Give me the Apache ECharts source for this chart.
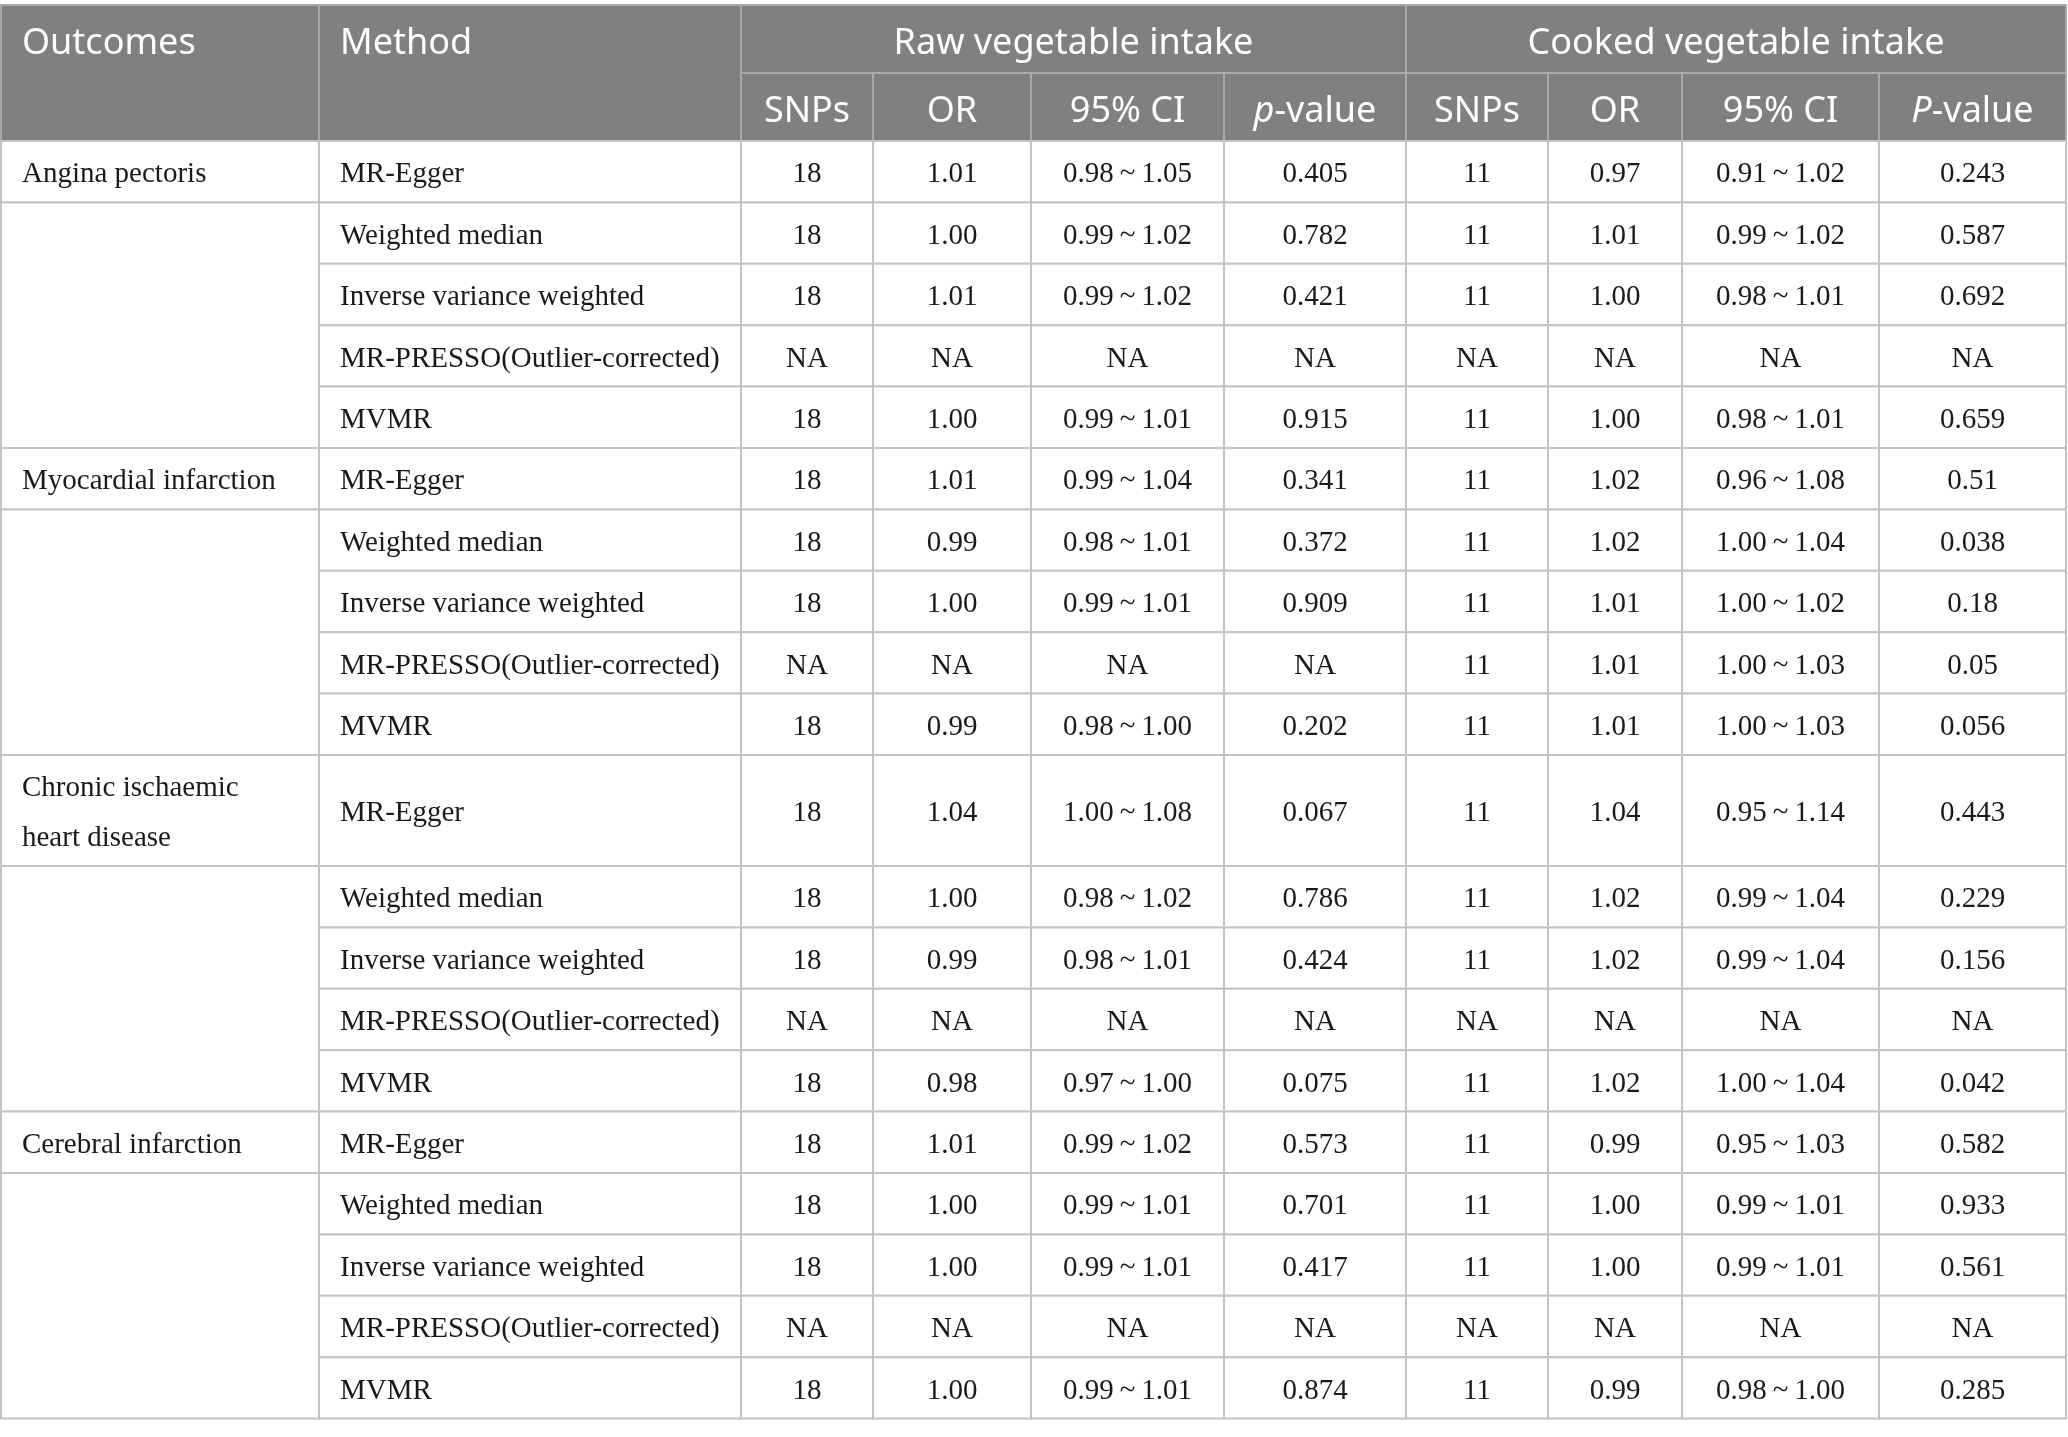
<!DOCTYPE html>
<html>
<head>
<meta charset="utf-8">
<title>MR results table</title>
<script src="https://cdn.jsdelivr.net/npm/echarts@6/dist/echarts.min.js"></script>
<style>
  html, body { margin: 0; padding: 0; background: #fff; }
  #main { width: 2068px; height: 1437px; }
</style>
</head>
<body>
<div id="main"></div>
<script>
// table content
const outcomes = ["Angina pectoris", "Myocardial infarction", "Chronic ischaemic\nheart disease", "Cerebral infarction"];
const methods = ["MR-Egger", "Weighted median", "Inverse variance weighted", "MR-PRESSO(Outlier-corrected)", "MVMR"];
const groupHeads = ["Raw vegetable intake", "Cooked vegetable intake"];
const subHeads = ["SNPs", "OR", "95% CI", "{i|p}-value", "SNPs", "OR", "95% CI", "{i|P}-value"];

const rawSnps = ["18", "18", "18", "NA", "18", "18", "18", "18", "NA", "18", "18", "18", "18", "NA", "18", "18", "18", "18", "NA", "18"];
const rawOr = ["1.01", "1.00", "1.01", "NA", "1.00", "1.01", "0.99", "1.00", "NA", "0.99", "1.04", "1.00", "0.99", "NA", "0.98", "1.01", "1.00", "1.00", "NA", "1.00"];
const rawCi = ["0.98 ~ 1.05", "0.99 ~ 1.02", "0.99 ~ 1.02", "NA", "0.99 ~ 1.01",
  "0.99 ~ 1.04", "0.98 ~ 1.01", "0.99 ~ 1.01", "NA", "0.98 ~ 1.00",
  "1.00 ~ 1.08", "0.98 ~ 1.02", "0.98 ~ 1.01", "NA", "0.97 ~ 1.00",
  "0.99 ~ 1.02", "0.99 ~ 1.01", "0.99 ~ 1.01", "NA", "0.99 ~ 1.01"];
const rawP = ["0.405", "0.782", "0.421", "NA", "0.915", "0.341", "0.372", "0.909", "NA", "0.202", "0.067", "0.786", "0.424", "NA", "0.075", "0.573", "0.701", "0.417", "NA", "0.874"];

const cookedSnps = ["11", "11", "11", "NA", "11", "11", "11", "11", "11", "11", "11", "11", "11", "NA", "11", "11", "11", "11", "NA", "11"];
const cookedOr = ["0.97", "1.01", "1.00", "NA", "1.00", "1.02", "1.02", "1.01", "1.01", "1.01", "1.04", "1.02", "1.02", "NA", "1.02", "0.99", "1.00", "1.00", "NA", "0.99"];
const cookedCi = ["0.91 ~ 1.02", "0.99 ~ 1.02", "0.98 ~ 1.01", "NA", "0.98 ~ 1.01",
  "0.96 ~ 1.08", "1.00 ~ 1.04", "1.00 ~ 1.02", "1.00 ~ 1.03", "1.00 ~ 1.03",
  "0.95 ~ 1.14", "0.99 ~ 1.04", "0.99 ~ 1.04", "NA", "1.00 ~ 1.04",
  "0.95 ~ 1.03", "0.99 ~ 1.01", "0.99 ~ 1.01", "NA", "0.98 ~ 1.00"];
const cookedP = ["0.243", "0.587", "0.692", "NA", "0.659", "0.51", "0.038", "0.18", "0.05", "0.056", "0.443", "0.229", "0.156", "NA", "0.042", "0.582", "0.933", "0.561", "NA", "0.285"];

const valueCols = [rawSnps, rawOr, rawCi, rawP, cookedSnps, cookedOr, cookedCi, cookedP];

// layout (in page pixels, mapped through the hidden value axes)
const W = 2068, H = 1437;
const colEdges = [1, 319, 741, 873, 1031, 1224, 1406, 1548, 1682, 1879, 2066];
const headTop = 5, headMid = 73, headBottom = 141;
const rowH = 61.4, tallRowH = 111;
const padLeft = 21;
const headShift = 5, bodyShift = 3;

const HEAD_BG = "#808080", HEAD_LINE = "#a9a9a9", BODY_LINE = "#c4c4c4";
const HEAD_FONT = "'Noto Sans', 'Open Sans', sans-serif";
const BODY_FONT = "'Liberation Serif', 'DejaVu Serif', serif";

const cells = [];
function addCell(x0, x1, y0, y1, text, opts) {
  cells.push(Object.assign({ x0, x1, y0, y1, text, align: "center", head: false, textY: null }, opts || {}));
}

// header
addCell(colEdges[0], colEdges[1], headTop, headBottom, "Outcomes", { head: true, align: "left", textY: (headTop + headMid) / 2 });
addCell(colEdges[1], colEdges[2], headTop, headBottom, "Method", { head: true, align: "left", textY: (headTop + headMid) / 2 });
addCell(colEdges[2], colEdges[6], headTop, headMid, groupHeads[0], { head: true });
addCell(colEdges[6], colEdges[10], headTop, headMid, groupHeads[1], { head: true });
subHeads.forEach((t, i) => addCell(colEdges[i + 2], colEdges[i + 3], headMid, headBottom, t, { head: true }));

// body
const rowTops = [];
let y = headBottom;
for (let r = 0; r < outcomes.length * methods.length; r++) {
  rowTops.push(y);
  y += (r === 10) ? tallRowH : rowH;
}
rowTops.push(y);

outcomes.forEach((name, g) => {
  const r0 = g * methods.length;
  addCell(colEdges[0], colEdges[1], rowTops[r0], rowTops[r0 + 1], name, { align: "left" });
  addCell(colEdges[0], colEdges[1], rowTops[r0 + 1], rowTops[r0 + methods.length], "", {});
  methods.forEach((m, k) => {
    const r = r0 + k;
    addCell(colEdges[1], colEdges[2], rowTops[r], rowTops[r + 1], m, { align: "left" });
    valueCols.forEach((col, c) => {
      addCell(colEdges[c + 2], colEdges[c + 3], rowTops[r], rowTops[r + 1], col[r].replace(" ~ ", "\u2009~\u2009"), {});
    });
  });
});

function renderCell(params, api) {
  const cell = cells[api.value(4)];
  const p0 = api.coord([api.value(0), api.value(1)]);
  const p1 = api.coord([api.value(2), api.value(3)]);
  const shift = cell.head ? headShift : bodyShift;
  const ty = (cell.textY != null ? api.coord([0, cell.textY])[1] : (p0[1] + p1[1]) / 2) + shift;
  const tx = cell.align === "left" ? p0[0] + padLeft : (p0[0] + p1[0]) / 2;
  return {
    type: "group",
    children: [
      {
        type: "rect",
        shape: { x: p0[0], y: p0[1], width: p1[0] - p0[0], height: p1[1] - p0[1] },
        style: {
          fill: cell.head ? HEAD_BG : "#fff",
          stroke: cell.head ? HEAD_LINE : BODY_LINE,
          lineWidth: 2
        }
      },
      {
        type: "text",
        x: tx,
        y: ty,
        style: {
          text: cell.text,
          align: cell.align,
          verticalAlign: "middle",
          fill: cell.head ? "#fff" : "#1a1a1a",
          font: cell.head ? "36px " + HEAD_FONT : "29px " + BODY_FONT,
          lineHeight: cell.head ? 44 : 50,
          rich: {
            i: { fontStyle: "italic", fontSize: 36, fontFamily: HEAD_FONT, fill: "#fff" }
          }
        }
      }
    ]
  };
}

const chart = echarts.init(document.getElementById("main"), null, { renderer: "canvas" });
chart.setOption({
  animation: false,
  backgroundColor: "#fff",
  grid: { left: 0, right: 0, top: 0, bottom: 0 },
  xAxis: { type: "value", min: 0, max: W, show: false },
  yAxis: { type: "value", min: 0, max: H, inverse: true, show: false },
  series: [{
    type: "custom",
    renderItem: renderCell,
    data: cells.map((c, i) => [c.x0, c.y0, c.x1, c.y1, i]),
    encode: { x: [0, 2], y: [1, 3] },
    clip: false
  }]
});
</script>
</body>
</html>
